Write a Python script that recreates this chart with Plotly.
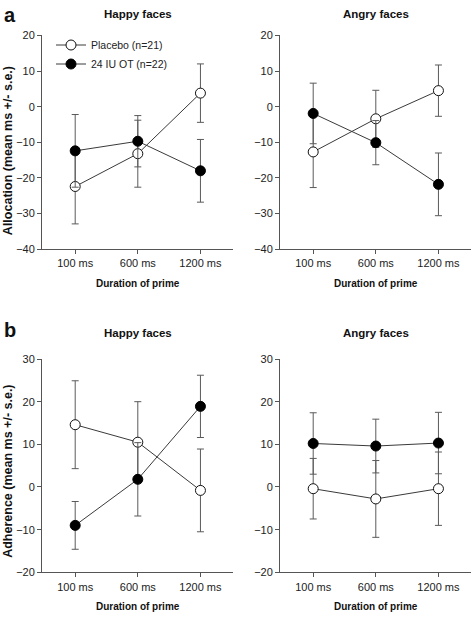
import plotly.graph_objects as go

# ---------------- data ----------------
durations = ["100 ms", "600 ms", "1200 ms"]
xpos = [0, 1, 2]

# Allocation, happy faces
alloc_happy_placebo = [-22.4, -13.2, 3.8]
alloc_happy_placebo_se = [10.5, 9.4, 8.2]
alloc_happy_ot = [-12.4, -9.7, -18.0]
alloc_happy_ot_se = [10.2, 7.2, 8.8]

# Allocation, angry faces
alloc_angry_placebo = [-12.7, -3.4, 4.5]
alloc_angry_placebo_se = [10.0, 8.0, 7.2]
alloc_angry_ot = [-1.9, -10.1, -21.8]
alloc_angry_ot_se = [8.5, 6.2, 8.8]

# Adherence, happy faces
adh_happy_placebo = [14.6, 10.5, -0.8]
adh_happy_placebo_se = [10.3, 9.5, 9.7]
adh_happy_ot = [-9.0, 1.8, 18.9]
adh_happy_ot_se = [5.6, 8.6, 7.3]

# Adherence, angry faces
adh_angry_placebo = [-0.4, -2.8, -0.4]
adh_angry_placebo_se = [7.1, 9.0, 8.6]
adh_angry_ot = [10.2, 9.6, 10.3]
adh_angry_ot_se = [7.2, 6.3, 7.2]

placebo_label = "Placebo (n=21)"
ot_label = "24 IU OT (n=22)"

# ---------------- layout helpers ----------------
W, H = 472, 619
FONT = "Liberation Sans, Arial, sans-serif"
AX_COLOR = "#555555"
LINE_COLOR = "#3a3a3a"
ERR_COLOR = "#5a5a5a"


def px_x(p):
    return p / W


def px_y(p):
    return 1 - p / H


fig = go.Figure()

panels = [
    ("x", "y", alloc_happy_placebo, alloc_happy_placebo_se, alloc_happy_ot, alloc_happy_ot_se, True),
    ("x2", "y2", alloc_angry_placebo, alloc_angry_placebo_se, alloc_angry_ot, alloc_angry_ot_se, False),
    ("x3", "y3", adh_happy_placebo, adh_happy_placebo_se, adh_happy_ot, adh_happy_ot_se, False),
    ("x4", "y4", adh_angry_placebo, adh_angry_placebo_se, adh_angry_ot, adh_angry_ot_se, False),
]

for xa, ya, pl, pl_se, ot, ot_se, show in panels:
    fig.add_trace(go.Scatter(
        x=xpos, y=pl, xaxis=xa, yaxis=ya, mode="lines+markers",
        name=placebo_label, showlegend=show,
        line=dict(color=LINE_COLOR, width=1),
        marker=dict(symbol="circle", size=10, color="white", line=dict(color="#111111", width=1)),
        error_y=dict(type="data", array=pl_se, visible=True, color=ERR_COLOR, thickness=1, width=3.5),
    ))
    fig.add_trace(go.Scatter(
        x=xpos, y=ot, xaxis=xa, yaxis=ya, mode="lines+markers",
        name=ot_label, showlegend=show,
        line=dict(color=LINE_COLOR, width=1),
        marker=dict(symbol="circle", size=10, color="black", line=dict(color="black", width=1)),
        error_y=dict(type="data", array=ot_se, visible=True, color=ERR_COLOR, thickness=1, width=3.5),
    ))

xdom_left = [px_x(42), px_x(233)]
xdom_right = [px_x(280), px_x(471)]
ydom_top = [px_y(248), px_y(30)]
ydom_bot = [px_y(577.5), px_y(360)]

xcommon = dict(
    range=[-0.53, 2.52], tickvals=xpos, ticktext=durations,
    showline=True, linecolor=AX_COLOR, linewidth=1, mirror=False,
    ticks="outside", ticklen=4, tickcolor=AX_COLOR, tickwidth=1,
    showgrid=False, zeroline=False, fixedrange=True,
    tickfont=dict(family=FONT, size=11, color="#222222"),
)
ycommon = dict(
    showline=True, linecolor=AX_COLOR, linewidth=1,
    ticks="outside", ticklen=4, tickcolor=AX_COLOR, tickwidth=1,
    showgrid=False, zeroline=False, fixedrange=True, dtick=10,
    tickfont=dict(family=FONT, size=11, color="#222222"),
)

fig.update_layout(
    width=W, height=H,
    margin=dict(l=0, r=0, t=0, b=0),
    paper_bgcolor="white", plot_bgcolor="white",
    font=dict(family=FONT, color="#111111"),
    xaxis=dict(domain=xdom_left, anchor="y", **xcommon),
    yaxis=dict(domain=ydom_top, anchor="x", range=[-40, 20], **ycommon),
    xaxis2=dict(domain=xdom_right, anchor="y2", **xcommon),
    yaxis2=dict(domain=ydom_top, anchor="x2", range=[-40, 20], **ycommon),
    xaxis3=dict(domain=xdom_left, anchor="y3", **xcommon),
    yaxis3=dict(domain=ydom_bot, anchor="x3", range=[-20, 30], **ycommon),
    xaxis4=dict(domain=xdom_right, anchor="y4", **xcommon),
    yaxis4=dict(domain=ydom_bot, anchor="x4", range=[-20, 30], **ycommon),
    legend=dict(
        x=px_x(51), y=px_y(25), xanchor="left", yanchor="top",
        bgcolor="rgba(0,0,0,0)", borderwidth=0,
        font=dict(family=FONT, size=10.5, color="#222222"),
        tracegroupgap=0, itemwidth=30,
    ),
    showlegend=True,
)

annotations = []
for xd, ypx, txt in [(xdom_left, 8, "Happy faces"), (xdom_right, 8, "Angry faces"),
                     (xdom_left, 333, "Happy faces"), (xdom_right, 333, "Angry faces")]:
    annotations.append(dict(x=(xd[0] + xd[1]) / 2, y=px_y(ypx), xref="paper", yref="paper",
                            text="<b>" + txt + "</b>", showarrow=False, xanchor="center", yanchor="middle",
                            font=dict(family=FONT, size=11.5, color="#111111")))
for xd, ypx in [(xdom_left, 283), (xdom_right, 283), (xdom_left, 612), (xdom_right, 612)]:
    annotations.append(dict(x=(xd[0] + xd[1]) / 2, y=px_y(ypx), xref="paper", yref="paper",
                            text="<b>Duration of prime</b>", showarrow=False, xanchor="center", yanchor="middle",
                            font=dict(family=FONT, size=10, color="#111111")))
for ypx, txt in [(148, "Allocation (mean ms +/- s.e.)"), (475, "Adherence (mean ms +/- s.e.)")]:
    annotations.append(dict(x=px_x(8), y=px_y(ypx), xref="paper", yref="paper",
                            text="<b>" + txt + "</b>", showarrow=False, textangle=-90,
                            xanchor="center", yanchor="middle",
                            font=dict(family=FONT, size=12.5, color="#111111")))
for ypx, txt in [(9, "a"), (330, "b")]:
    annotations.append(dict(x=px_x(10), y=px_y(ypx), xref="paper", yref="paper",
                            text="<b>" + txt + "</b>", showarrow=False, xanchor="center", yanchor="middle",
                            font=dict(family=FONT, size=20, color="#111111")))
fig.update_layout(annotations=annotations)

fig.write_html(
    "out.html",
    config={"displayModeBar": False, "staticPlot": True},
    post_script="document.body.style.margin='0px';document.body.style.overflow='hidden';",
)
